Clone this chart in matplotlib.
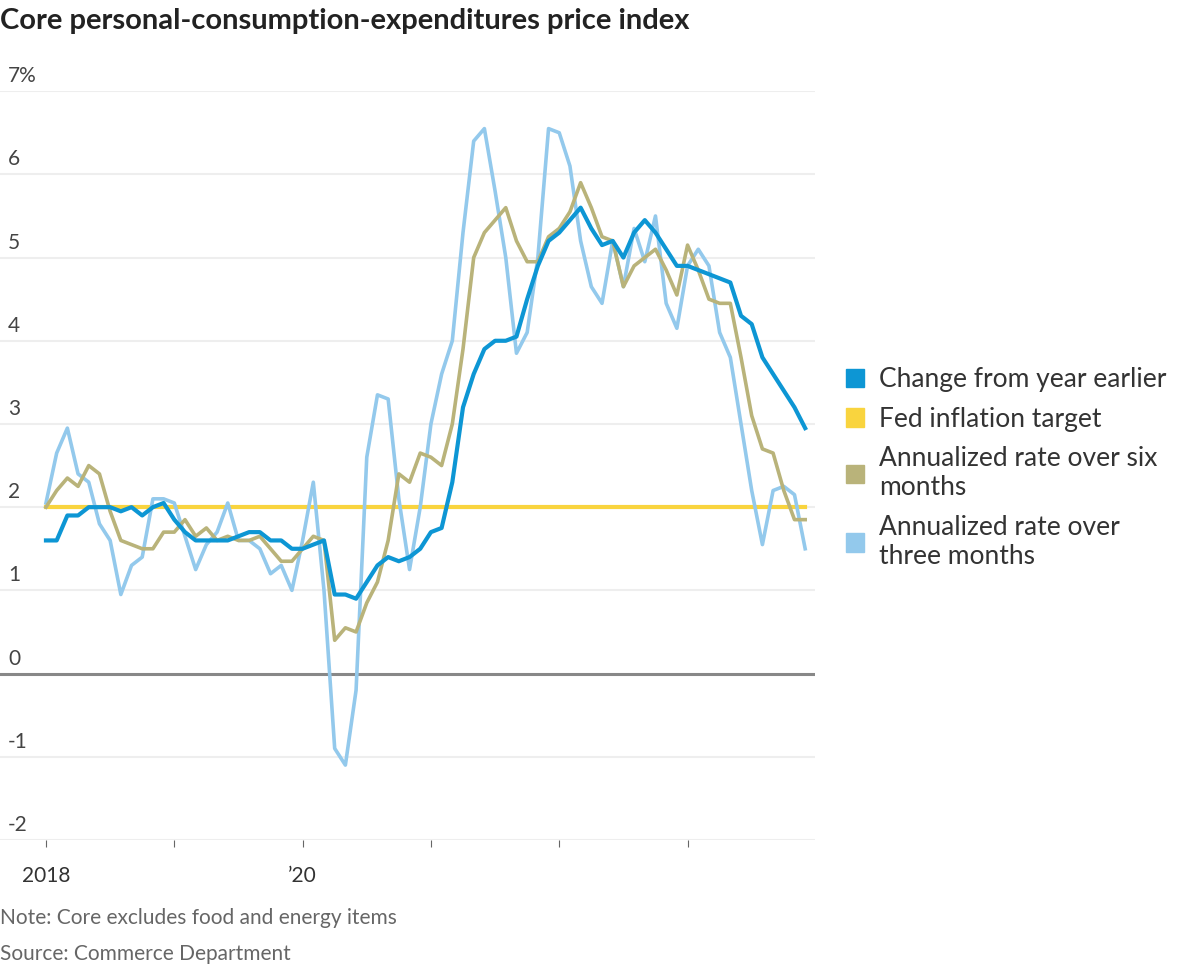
import matplotlib.pyplot as plt
from matplotlib.patches import Patch

# Monthly, Jan 2018 - Dec 2023
year_over_year = [
    1.6, 1.6, 1.9, 1.9, 2.0, 2.0, 2.0, 1.95, 2.0, 1.9, 2.0, 2.05,
    1.85, 1.7, 1.6, 1.6, 1.6, 1.6, 1.65, 1.7, 1.7, 1.6, 1.6, 1.5,
    1.5, 1.55, 1.6, 0.95, 0.95, 0.9, 1.1, 1.3, 1.4, 1.35, 1.4, 1.5,
    1.7, 1.75, 2.3, 3.2, 3.6, 3.9, 4.0, 4.0, 4.05, 4.5, 4.9, 5.2,
    5.3, 5.45, 5.6, 5.35, 5.15, 5.2, 5.0, 5.3, 5.45, 5.3, 5.1, 4.9,
    4.9, 4.85, 4.8, 4.75, 4.7, 4.3, 4.2, 3.8, 3.6, 3.4, 3.2, 2.95,
]
six_month = [
    2.0, 2.2, 2.35, 2.25, 2.5, 2.4, 1.95, 1.6, 1.55, 1.5, 1.5, 1.7,
    1.7, 1.85, 1.65, 1.75, 1.6, 1.65, 1.6, 1.6, 1.65, 1.5, 1.35, 1.35,
    1.5, 1.65, 1.6, 0.4, 0.55, 0.5, 0.85, 1.1, 1.6, 2.4, 2.3, 2.65,
    2.6, 2.5, 3.0, 3.9, 5.0, 5.3, 5.45, 5.6, 5.2, 4.95, 4.95, 5.25,
    5.35, 5.55, 5.9, 5.6, 5.25, 5.2, 4.65, 4.9, 5.0, 5.1, 4.85, 4.55,
    5.15, 4.85, 4.5, 4.45, 4.45, 3.8, 3.1, 2.7, 2.65, 2.2, 1.85, 1.85,
]
three_month = [
    2.05, 2.65, 2.95, 2.4, 2.3, 1.8, 1.6, 0.95, 1.3, 1.4, 2.1, 2.1,
    2.05, 1.65, 1.25, 1.55, 1.7, 2.05, 1.6, 1.6, 1.5, 1.2, 1.3, 1.0,
    1.6, 2.3, 1.0, -0.9, -1.1, -0.2, 2.6, 3.35, 3.3, 2.1, 1.25, 2.0,
    3.0, 3.6, 4.0, 5.3, 6.4, 6.55, 5.8, 5.0, 3.85, 4.1, 5.0, 6.55,
    6.5, 6.1, 5.2, 4.65, 4.45, 5.2, 4.65, 5.35, 4.95, 5.5, 4.45, 4.15,
    4.9, 5.1, 4.9, 4.1, 3.8, 3.0, 2.2, 1.55, 2.2, 2.25, 2.15, 1.5,
]
fed_target = 2.0
tick_pos = [0, 12, 24, 36, 48, 60]
tick_labels = ["2018", "", "\u201920", "", "", ""]
y_ticks = [-2, -1, 0, 1, 2, 3, 4, 5, 6, 7]

c_yoy = "#0d96d4"
c_fed = "#f9d43e"
c_six = "#b9b37a"
c_three = "#93c9ec"

plt.rcParams["font.family"] = ["Lato", "DejaVu Sans"]
fig = plt.figure(figsize=(12, 9.75), dpi=100)
ax = fig.add_axes([0.0, 0.1385, 0.679, 0.768])

months = list(range(len(year_over_year)))
ax.plot(months, [fed_target] * len(months), color=c_fed, lw=3, zorder=2)
ax.plot(months, three_month, color=c_three, lw=2.6, zorder=3)
ax.plot(months, six_month, color=c_six, lw=2.6, zorder=4)
ax.plot(months, year_over_year, color=c_yoy, lw=3, zorder=5)

ax.set_xlim(-4.3, 71.9)
ax.set_ylim(-2, 7)
for y in y_ticks:
    if y == 0:
        ax.axhline(0, color="#888888", lw=2.2, zorder=1)
    else:
        ax.axhline(y, color="#eeeeee", lw=1.5, zorder=0)
    ax.text(0.01, y + 0.06, f"{y}%" if y == 7 else str(y), transform=ax.get_yaxis_transform(),
            fontsize=15, color="#444444", va="bottom", ha="left")

ax.set_yticks([])
ax.set_xticks(tick_pos)
ax.set_xticklabels(tick_labels, fontsize=15, color="#333333")
ax.tick_params(axis="x", length=5, color="#666666", pad=14)
for s in ax.spines.values():
    s.set_visible(False)

fig.text(0.0, 0.978, "Core personal-consumption-expenditures price index",
         fontsize=21, fontweight="bold", color="#222222", va="center")
fig.text(0.0, 0.058, "Note: Core excludes food and energy items", fontsize=15, color="#666666", va="center")
fig.text(0.0, 0.022, "Source: Commerce Department", fontsize=15, color="#666666", va="center")

handles = [Patch(color=c) for c in (c_yoy, c_fed, c_six, c_three)]
labels = ["Change from year earlier", "Fed inflation target",
          "Annualized rate over six\nmonths", "Annualized rate over\nthree months"]
fig.legend(handles, labels, loc="center left", bbox_to_anchor=(0.685, 0.52),
           frameon=False, fontsize=19, handlelength=0.7, handleheight=0.7,
           handletextpad=0.55, labelspacing=0.55, labelcolor="#333333")

fig.savefig("out.png", dpi=100)
